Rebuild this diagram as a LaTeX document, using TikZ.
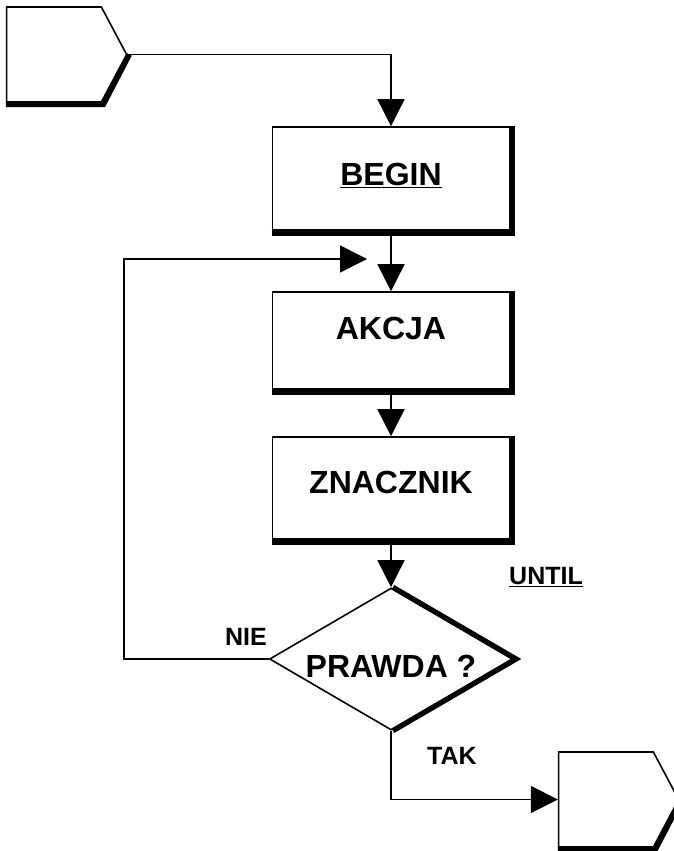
\documentclass[tikz,border=0pt]{standalone}
\usepackage{fontspec}
\setmainfont{Liberation Sans}
\usetikzlibrary{arrows.meta,calc,shapes.geometric,shapes.symbols}

\newcommand{\napis}{\fontsize{32}{36}\selectfont\bfseries}
\newcommand{\etykieta}{\fontsize{25}{30}\selectfont\bfseries}

\begin{document}
\begin{tikzpicture}[x=1pt,y=-1pt,line width=1.6pt,
  strzalka/.style={-{Triangle[length=27pt,width=27pt]}},
  blok/.style={draw,rectangle,minimum width=237pt,inner sep=0pt,font=\napis,text height=23pt},
  laczka/.style={draw,signal,signal to=east,signal pointer angle=124,minimum width=120pt,minimum height=95pt,inner sep=0pt},
  cien/.style={line width=5pt}]

  \useasboundingbox (0,0) rectangle (674,851);

  % lacznik wejsciowy i wyjsciowy
  \node[laczka] (zrodlo) at (54,54.5) {};
  \node[laczka] (cel) at (606,799.5) {};

  % bloki petli
  \node[blok,minimum height=103pt,text depth=9pt] (begin) at (391,178.5) {\underline{BEGIN}};
  \node[blok,minimum height=97pt,text depth=25pt] (akcja) at (391,340.5) {AKCJA};
  \node[blok,minimum height=102pt,text depth=12pt] (znacznik) at (391,488) {ZNACZNIK};

  \node[draw,diamond,aspect=1.71,minimum width=243pt,minimum height=142pt,inner sep=0pt,
        font=\napis,text height=37pt,text depth=0pt] (prawda) at (391,659) {PRAWDA ?};

  \node[font=\etykieta] (nie) at (246,637) {NIE};
  \node[font=\etykieta] (until) at (546,577) {\underline{UNTIL}};
  \node[font=\etykieta] (tak) at (452,756) {TAK};

  % cienie
  \foreach \n in {begin,akcja,znacznik}
    \draw[cien] ([yshift=-2.5pt]\n.south west) -| ([xshift=2.5pt]\n.north east);
  \foreach \n in {zrodlo,cel}
    \draw[cien] ($(\n.west)+(0,50)$) -- ($(\n.east)+(-24,50)$) -- ($(\n.east)+(2,0)$);
  \draw[cien] ([xshift=2pt]prawda.north) -- ([xshift=3pt]prawda.east) -- ([xshift=2pt]prawda.south);

  % polaczenia
  \coordinate (powrot) at (367,259);
  \draw[strzalka] (zrodlo.east) -| (begin.north);
  \foreach \from/\to in {begin/akcja,akcja/znacznik,znacznik/prawda}
    \draw[strzalka] (\from) -- (\to);
  \draw[strzalka] (prawda.west) -- ++(-145,0) |- (powrot);
  \draw[strzalka] (prawda.south) |- (cel.west);

\end{tikzpicture}
\end{document}
